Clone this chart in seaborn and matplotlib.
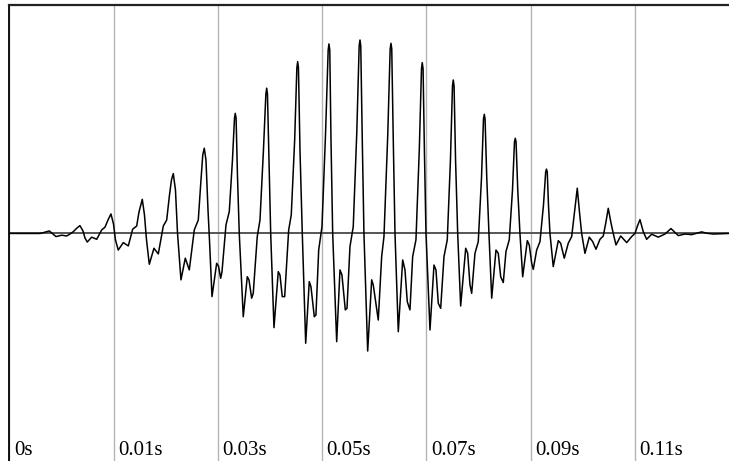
import numpy as np
import pandas as pd
import seaborn as sns
import matplotlib
matplotlib.use("Agg")
import matplotlib.pyplot as plt
import matplotlib.transforms as mtransforms

sns.set_style("white")
plt.rcParams["font.family"] = ["Liberation Serif", "DejaVu Serif"]

# waveform: time in ms, amplitude (peak ~1)
time_ms = [
    0, 5.56, 6.29, 7.26, 7.93, 8.48, 9.52, 10.43, 11.03, 11.63,
    12.31, 12.85, 13.40, 13.76, 14.18, 14.99, 15.90, 16.81, 17.41, 17.96,
    18.50, 18.96, 19.32, 19.83, 20.75, 21.66, 22.46, 23.19, 23.61, 24.21,
    24.61, 24.98, 25.49, 26.34, 27.13, 28.04, 28.66, 29.17, 29.53, 29.86,
    30.26, 30.63, 31.26, 32.05, 32.78, 33.69, 34.42, 34.91, 35.24, 35.51,
    35.82, 36.19, 36.46, 36.92, 37.77, 38.10, 38.50, 38.74, 39.47, 40.07,
    40.65, 41.02, 41.16, 41.31, 41.56, 41.89, 42.62, 43.35, 43.66, 44.15,
    44.44, 45.17, 45.67, 46.30, 46.74, 46.89, 47.03, 47.31, 47.62, 48.22,
    49.00, 49.31, 49.73, 50.17, 50.90, 51.37, 51.99, 52.39, 52.54, 52.68,
    52.96, 53.38, 54.00, 54.65, 54.96, 55.57, 55.87, 56.37, 56.97, 57.61,
    58.10, 58.24, 58.39, 58.61, 58.92, 59.65, 60.25, 60.61, 61.22, 61.53,
    62.07, 62.67, 63.31, 63.75, 63.90, 64.04, 64.30, 64.62, 65.30, 66.03,
    66.32, 67.23, 67.85, 68.27, 68.96, 69.40, 69.55, 69.69, 69.95, 70.28,
    70.88, 71.68, 72.10, 72.52, 73.01, 73.50, 74.10, 74.71, 75.11, 75.25,
    75.40, 75.64, 75.93, 76.66, 77.39, 77.75, 78.17, 78.61, 79.21, 79.81,
    80.39, 80.76, 80.90, 81.05, 81.32, 81.71, 82.25, 83.17, 83.53, 83.95,
    84.26, 84.86, 85.46, 86.05, 86.41, 86.56, 86.70, 87.01, 87.41, 87.91,
    88.69, 89.11, 89.55, 90.02, 90.51, 91.11, 91.70, 92.06, 92.21, 92.35,
    92.66, 93.06, 93.56, 94.40, 94.76, 95.20, 95.49, 96.11, 96.71, 97.35,
    97.75, 97.89, 98.04, 98.26, 98.53, 99.13, 100.05, 100.48, 101.14, 101.87,
    102.49, 103.05, 103.51, 103.91, 104.31, 104.91, 105.70, 106.32, 106.92, 107.65,
    108.25, 108.74, 109.16, 109.62, 110.07, 110.57, 111.42, 112.52, 113.43, 114.03,
    114.48, 114.94, 115.54, 116.16, 117.07, 118.28, 119.50, 120.59, 121.92, 123.14,
    124.37, 126.19, 127.10, 128.30, 131.17,
]
amplitude = [
    0, 0, 0.005, 0.013, -0.003, -0.016, -0.009, -0.013, -0.003, 0.009,
    0.028, 0.040, 0.013, -0.023, -0.044, -0.019, -0.030, 0.018, 0.032, 0.069,
    0.100, 0.049, -0.033, -0.085, -0.047, -0.064, 0.022, 0.038, 0.110, 0.175,
    0.095, -0.033, -0.158, -0.076, -0.105, 0.038, 0.069, 0.197, 0.274, 0.307,
    0.223, 0.003, -0.238, -0.127, -0.187, 0.018, 0.069, 0.274, 0.403, 0.437,
    0.377, 0.121, -0.033, -0.324, -0.153, -0.167, -0.230, -0.197, 0.044, 0.112,
    0.377, 0.592, 0.616, 0.592, 0.300, 0, -0.427, -0.222, -0.238, -0.332,
    -0.307, -0.016, 0.069, 0.428, 0.715, 0.745, 0.715, 0.377, 0, -0.483,
    -0.196, -0.213, -0.324, -0.324, 0.018, 0.095, 0.479, 0.849, 0.881, 0.849,
    0.428, 0, -0.563, -0.247, -0.273, -0.427, -0.418, -0.085, 0.035, 0.505,
    0.941, 0.972, 0.941, 0.485, 0, -0.555, -0.187, -0.213, -0.392, -0.384,
    -0.068, 0.035, 0.515, 0.962, 0.992, 0.962, 0.505, 0, -0.603, -0.238,
    -0.264, -0.444, -0.119, -0.016, 0.505, 0.946, 0.975, 0.946, 0.505, 0,
    -0.504, -0.136, -0.187, -0.350, -0.392, -0.119, -0.033, 0.428, 0.844, 0.876,
    0.844, 0.428, 0, -0.495, -0.162, -0.187, -0.358, -0.384, -0.119, -0.033,
    0.377, 0.756, 0.787, 0.756, 0.377, 0, -0.372, -0.076, -0.102, -0.264,
    -0.307, -0.102, -0.042, 0.285, 0.587, 0.611, 0.587, 0.285, 0, -0.332,
    -0.085, -0.102, -0.222, -0.252, -0.093, -0.033, 0.223, 0.469, 0.488, 0.469,
    0.223, 0, -0.222, -0.037, -0.059, -0.153, -0.184, -0.085, -0.042, 0.146,
    0.315, 0.330, 0.315, 0.146, 0, -0.170, -0.037, -0.050, -0.127, -0.050,
    -0.016, 0.121, 0.232, 0.110, 0, -0.102, -0.019, -0.042, -0.081, -0.030,
    -0.013, 0.059, 0.129, 0.059, 0, -0.059, -0.013, -0.047, -0.016, 0,
    0.038, 0.071, 0.009, -0.030, -0.004, -0.019, -0.003, 0.025, -0.011, -0.003,
    -0.006, 0.008, 0.001, -0.003, 0,
]

tick_times = [0, 0.019, 0.038, 0.057, 0.076, 0.095, 0.114]
tick_labels = ["0s", "0.01s", "0.03s", "0.05s", "0.07s", "0.09s", "0.11s"]

wave = pd.DataFrame({"t": np.array(time_ms) / 1000.0, "amp": amplitude})

fig = plt.figure(figsize=(7.29, 4.61), dpi=100)
ax = fig.add_axes([0.013, 0.0, 0.987, 0.9885])

ax.axhline(0, color="#555555", linewidth=1.4, zorder=2)
sns.lineplot(data=wave, x="t", y="amp", sort=False, estimator=None,
             color="black", linewidth=1.1, ax=ax, zorder=3)

ax.set_xlim(0, wave["t"].iloc[-1])
ax.set_ylim(-1.167, 1.170)

ax.set_xticks(tick_times)
ax.set_xticklabels([])
ax.set_yticks([])
ax.tick_params(length=0)
ax.grid(axis="x", color="#b4b4b4", linewidth=1.0)
ax.set_xlabel("")
ax.set_ylabel("")

for side in ["right", "bottom"]:
    ax.spines[side].set_visible(False)
ax.spines["left"].set_color("black")
ax.spines["left"].set_linewidth(1.3)
ax.spines["top"].set_color("#222222")
ax.spines["top"].set_linewidth(1.6)

trans = mtransforms.blended_transform_factory(ax.transData, ax.transAxes)
for pos, lab in zip(tick_times, tick_labels):
    ax.annotate(lab, xy=(pos, 0), xycoords=trans, xytext=(4.5, 6),
                textcoords="offset pixels", ha="left", va="baseline",
                fontsize=15, color="black")

fig.savefig("out.png", dpi=100)
